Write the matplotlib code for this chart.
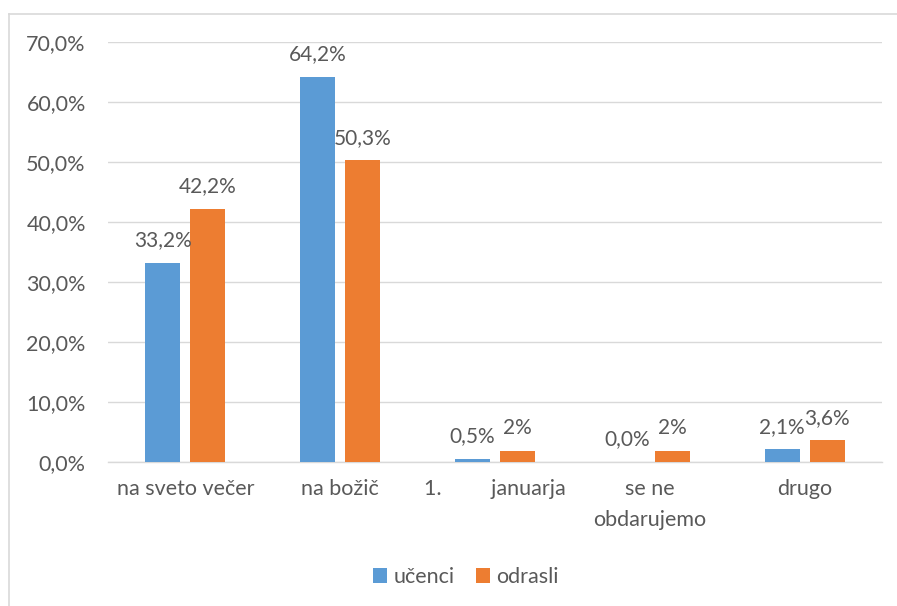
import matplotlib
matplotlib.use("Agg")
import matplotlib.pyplot as plt
from matplotlib.lines import Line2D
import numpy as np

categories = ["na sveto večer", "na božič", "1.         januarja", "se ne\nobdarujemo", "drugo"]
ucenci = [33.2, 64.2, 0.5, 0.0, 2.1]
odrasli = [42.2, 50.3, 1.9, 1.9, 3.6]
ucenci_labels = ["33,2%", "64,2%", "0,5%", "0,0%", "2,1%"]
odrasli_labels = ["42,2%", "50,3%", "2%", "2%", "3,6%"]
yticks = [0, 10, 20, 30, 40, 50, 60, 70]
ytick_labels = ["0,0%", "10,0%", "20,0%", "30,0%", "40,0%", "50,0%", "60,0%", "70,0%"]

plt.rcParams['font.family'] = ['Lato', 'DejaVu Sans']
txt = "#595959"
blue = "#5B9BD5"
orange = "#ED7D31"
grid = "#D9D9D9"
fs = 15.5

fig = plt.figure(figsize=(8.97, 6.06), dpi=100)
ax = fig.add_axes([108/897, 1-462/606, (882-108)/897, (462-42)/606])

x = np.arange(len(categories))
w = 0.226
off = 0.145
b1 = ax.bar(x - off, ucenci, w, color=blue, label="učenci", zorder=3)
b2 = ax.bar(x + off, odrasli, w, color=orange, label="odrasli", zorder=3)

for bars, labs in ((b1, ucenci_labels), (b2, odrasli_labels)):
    for r, l in zip(bars, labs):
        ax.annotate(l, (r.get_x() + r.get_width()/2, r.get_height()),
                    xytext=(0, 9), textcoords="offset points",
                    ha="center", va="bottom", fontsize=15, color=txt)

ax.set_xlim(-0.5, len(categories) - 0.5)
ax.set_ylim(0, 70)
ax.set_yticks(yticks)
ax.set_yticklabels(ytick_labels)
ax.set_xticks(x)
ax.set_xticklabels(categories, linespacing=1.7)
ax.tick_params(axis="y", length=0, pad=16, labelsize=fs, labelcolor=txt)
ax.tick_params(axis="x", length=0, pad=12, labelsize=fs, labelcolor=txt)
ax.grid(axis="y", color=grid, linewidth=1.0, zorder=0)
for s in ["top", "right", "left"]:
    ax.spines[s].set_visible(False)
ax.spines["bottom"].set_color(grid)
ax.spines["bottom"].set_linewidth(1.0)

leg = fig.legend(handles=[b1, b2], labels=["učenci", "odrasli"], loc="center",
                 bbox_to_anchor=(466/897, 1-577/606), ncol=2, frameon=False,
                 fontsize=fs, handlelength=0.65, handleheight=0.65,
                 handletextpad=0.3, columnspacing=1.0)
for t in leg.get_texts():
    t.set_color(txt)

fig.add_artist(Line2D([8.5/897, 8.5/897], [0, 1-13.5/606], transform=fig.transFigure, color=grid, lw=1.2))
fig.add_artist(Line2D([8.5/897, 1], [1-13.5/606, 1-13.5/606], transform=fig.transFigure, color=grid, lw=1.2))

fig.savefig("out.png", dpi=100)
